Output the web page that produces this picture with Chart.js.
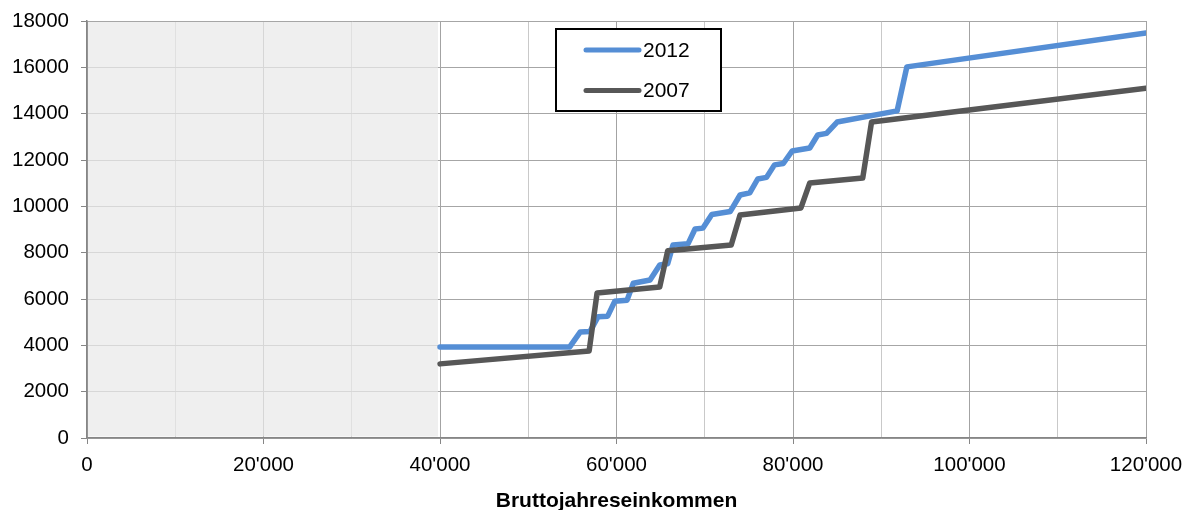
<!DOCTYPE html>
<html><head><meta charset="utf-8">
<script src="https://cdn.jsdelivr.net/npm/chart.js@4.4.1/dist/chart.umd.min.js"></script>
<style>html,body{margin:0;padding:0;background:#fff;}</style>
</head><body>
<canvas id="c" width="1185" height="510" style="display:block;width:1185px;height:510px"></canvas>
<script>
// ---- data ----
const seriesLabels = ['2012', '2007'];
const income2012 = [40000, 54700, 55900, 57000, 57900, 59000, 59800, 61200, 61900, 63800, 64900, 65800, 66400, 68100, 68900, 69800, 70800, 72900, 74000, 75100, 76000, 77000, 77900, 78900, 79900, 81900, 82800, 83800, 85000, 91800, 92900, 120000];
const tax2012    = [3930, 3930, 4580, 4600, 5230, 5260, 5900, 5950, 6680, 6820, 7470, 7520, 8330, 8380, 9020, 9060, 9650, 9780, 10490, 10580, 11180, 11250, 11790, 11850, 12390, 12520, 13080, 13150, 13640, 14120, 16020, 17480];
const income2007 = [40000, 56900, 57800, 64900, 65800, 73000, 74000, 80900, 81900, 87900, 88900, 120000];
const tax2007    = [3200, 3760, 6260, 6520, 8080, 8330, 9630, 9930, 11010, 11220, 13640, 15100];
const xTickValues = [0, 20000, 40000, 60000, 80000, 100000, 120000];
const yTickValues = [0, 2000, 4000, 6000, 8000, 10000, 12000, 14000, 16000, 18000];
const shadedRange = [0, 40000];
const xTitle = 'Bruttojahreseinkommen';

const FONT = "'Liberation Sans', Arial, sans-serif";
const toPts = (xs, ys) => xs.map((x, i) => ({x: x, y: ys[i]}));
const fmtX = v => v === 0 ? '0' : (v / 1000) + "'000";

const shadePlugin = {
  id: 'shade',
  beforeDatasetsDraw(chart) {
    const {ctx, chartArea: a, scales: {x}} = chart;
    const x0 = x.getPixelForValue(shadedRange[0]);
    const x1 = x.getPixelForValue(shadedRange[1]);
    ctx.save();
    ctx.fillStyle = 'rgba(233,233,233,0.73)';
    ctx.fillRect(x0 + 1, a.top + 1, x1 - x0 - 3, a.bottom - a.top - 2.5);
    ctx.restore();
  }
};

const legendPlugin = {
  id: 'boxLegend',
  afterDraw(chart) {
    const ctx = chart.ctx;
    const bx = 556, by = 29, bw = 165, bh = 82;
    ctx.save();
    ctx.fillStyle = '#ffffff';
    ctx.fillRect(bx, by, bw, bh);
    ctx.strokeStyle = '#000000';
    ctx.lineWidth = 2;
    ctx.strokeRect(bx, by, bw, bh);
    const rows = [50, 90.5];
    chart.data.datasets.forEach((ds, i) => {
      const y = rows[i];
      ctx.strokeStyle = ds.borderColor;
      ctx.lineWidth = 5;
      ctx.lineCap = 'round';
      ctx.beginPath();
      ctx.moveTo(586, y);
      ctx.lineTo(639, y);
      ctx.stroke();
      ctx.fillStyle = '#000';
      ctx.font = '21px ' + FONT;
      ctx.textAlign = 'left';
      ctx.textBaseline = 'middle';
      ctx.fillText(ds.label, 643, y + 1);
    });
    ctx.restore();
  }
};

new Chart(document.getElementById('c'), {
  type: 'line',
  data: {
    datasets: [
      {label: seriesLabels[0], data: toPts(income2012, tax2012), borderColor: 'rgb(85,142,213)', borderWidth: 5.5, order: 1},
      {label: seriesLabels[1], data: toPts(income2007, tax2007), borderColor: '#575757', borderWidth: 5.5, order: 0}
    ]
  },
  options: {
    responsive: false,
    animation: false,
    devicePixelRatio: 1,
    layout: {padding: {left: 0, right: 39, top: 21, bottom: 0}},
    elements: {
      point: {radius: 0, hoverRadius: 0},
      line: {tension: 0, borderJoinStyle: 'round', borderCapStyle: 'round', fill: false}
    },
    plugins: {legend: {display: false}, tooltip: {enabled: false}},
    scales: {
      x: {
        type: 'linear', min: 0, max: 120000,
        afterFit: s => { s.height = 72; s.paddingLeft = 0; s.paddingRight = 0; },
        afterBuildTicks: s => { s.ticks = [0,10000,20000,30000,40000,50000,60000,70000,80000,90000,100000,110000,120000].map(v => ({value: v})); },
        ticks: {
          autoSkip: false, maxRotation: 0, padding: 9, color: '#000',
          font: {family: FONT, size: 20.5},
          callback: v => xTickValues.includes(v) ? fmtX(v) : ''
        },
        grid: {
          color: c => (c.tick && c.tick.value % 20000 === 0) ? '#a3a3a3' : '#c9c9c9',
          tickColor: c => (c.tick && c.tick.value % 20000 === 0) ? '#868686' : 'rgba(0,0,0,0)',
          tickLength: 6, lineWidth: 1
        },
        border: {color: '#868686', width: 1.5},
        title: {display: true, text: xTitle, color: '#000', font: {family: FONT, size: 21, weight: 'bold', lineHeight: 0.86}, padding: {top: 0, bottom: 0}}
      },
      y: {
        type: 'linear', min: 0, max: 18000,
        afterFit: s => { s.width = 87; s.paddingTop = 0; s.paddingBottom = 0; },
        afterBuildTicks: s => { s.ticks = yTickValues.map(v => ({value: v})); },
        ticks: {padding: 12, color: '#000', font: {family: FONT, size: 20.5}, callback: v => String(v)},
        grid: {color: '#a6a6a6', tickColor: '#868686', tickLength: 6, lineWidth: 1},
        border: {color: '#868686', width: 1.5}
      }
    }
  },
  plugins: [shadePlugin, legendPlugin]
});
</script>
</body></html>
